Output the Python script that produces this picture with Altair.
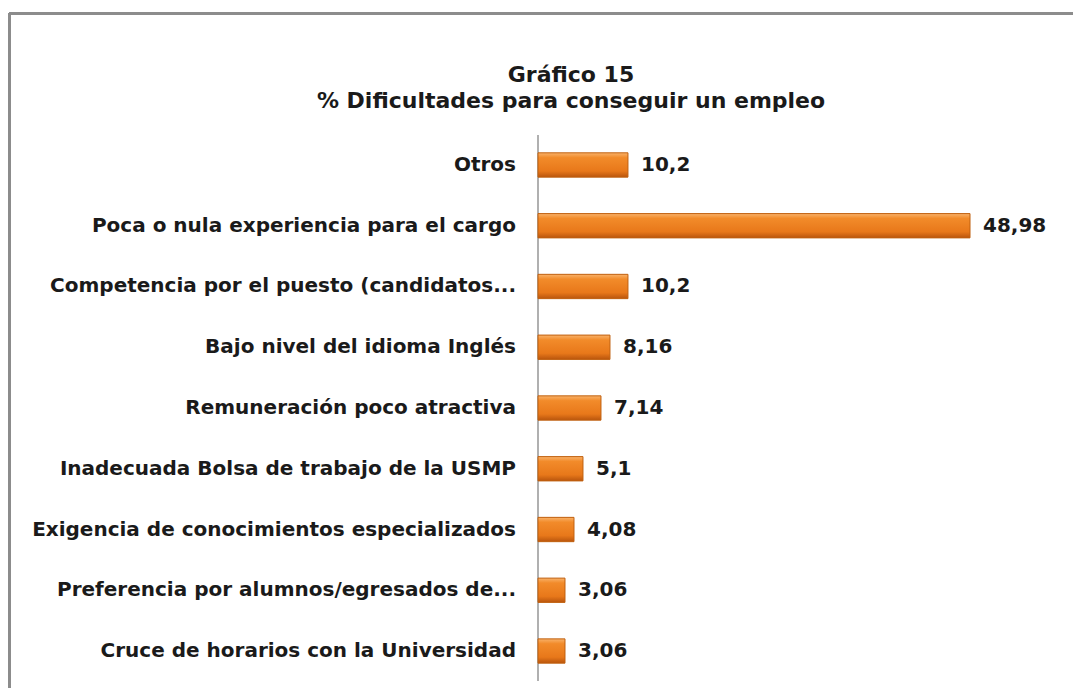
import altair as alt
import pandas as pd

categories = [
    "Otros",
    "Poca o nula experiencia para el cargo",
    "Competencia por el puesto (candidatos...",
    "Bajo nivel del idioma Inglés",
    "Remuneración poco atractiva",
    "Inadecuada Bolsa de trabajo de la USMP",
    "Exigencia de conocimientos especializados",
    "Preferencia por alumnos/egresados de...",
    "Cruce de horarios con la Universidad",
]
values = [10.2, 48.98, 10.2, 8.16, 7.14, 5.1, 4.08, 3.06, 3.06]
value_labels = ["10,2", "48,98", "10,2", "8,16", "7,14", "5,1", "4,08", "3,06", "3,06"]

df = pd.DataFrame({"cat": categories, "val": values, "lab": value_labels, "zero": [0] * len(values)})

FONT = "DejaVu Sans"
W, H = 1065, 680

xs = alt.Scale(domain=[0, 50], range=[530, 971])
x = alt.X("val:Q", scale=xs, axis=None)
y = alt.Y("cat:N", sort=categories,
          scale=alt.Scale(range=[126.6, 673.4], paddingInner=0.6, paddingOuter=0.3), axis=None)

base = alt.Chart(df)

grad = alt.Gradient(
    gradient="linear", x1=0, y1=0, x2=0, y2=1,
    stops=[
        alt.GradientStop(offset=0, color="#F9B26A"),
        alt.GradientStop(offset=0.2, color="#F28B2A"),
        alt.GradientStop(offset=0.75, color="#E8781A"),
        alt.GradientStop(offset=1, color="#B9550D"),
    ],
)

bars = base.mark_bar(color=grad, stroke="#C0600F", strokeWidth=1).encode(x=x, x2=alt.value(530), y=y)

vals = base.mark_text(align="left", baseline="middle", dx=13, font=FONT, fontSize=20,
                      fontWeight="bold", color="#1a1a1a").encode(x=x, y=y, text="lab:N")

cats = base.mark_text(align="right", baseline="middle", dx=-22, font=FONT, fontSize=20,
                      fontWeight="bold", color="#1a1a1a").encode(
    x=alt.X("zero:Q", scale=xs, axis=None), y=y, text="cat:N")

axis_line = base.mark_rule(color="#B0B0B0", strokeWidth=1.5).encode(
    x=alt.value(530), y=alt.value(127), y2=alt.value(673))

border_left = base.mark_rule(color="#8C8C8C", strokeWidth=2.5).encode(
    x=alt.value(1.5), y=alt.value(5), y2=alt.value(H))
border_top = base.mark_rule(color="#8C8C8C", strokeWidth=2.5).encode(
    x=alt.value(1.5), x2=alt.value(W), y=alt.value(5.5))

chart = alt.layer(border_left, border_top, axis_line, bars, vals, cats).properties(
    width=W, height=H,
    autosize=alt.AutoSizeParams(type="none"),
    padding=0,
    view=alt.ViewBackground(stroke="transparent", strokeWidth=0, strokeOpacity=0),
    title=alt.TitleParams(
        text=["Gráfico 15", "% Dificultades para conseguir un empleo"],
        anchor="start", frame="group", dx=563, align="center", offset=-105, baseline="top",
        font=FONT, fontSize=22, fontWeight="bold", color="#1a1a1a", lineHeight=26,
    ),
).configure_view(stroke="transparent", strokeWidth=0).configure(background="white")

chart.save("out.html", embed_options={"renderer": "svg", "actions": False})
